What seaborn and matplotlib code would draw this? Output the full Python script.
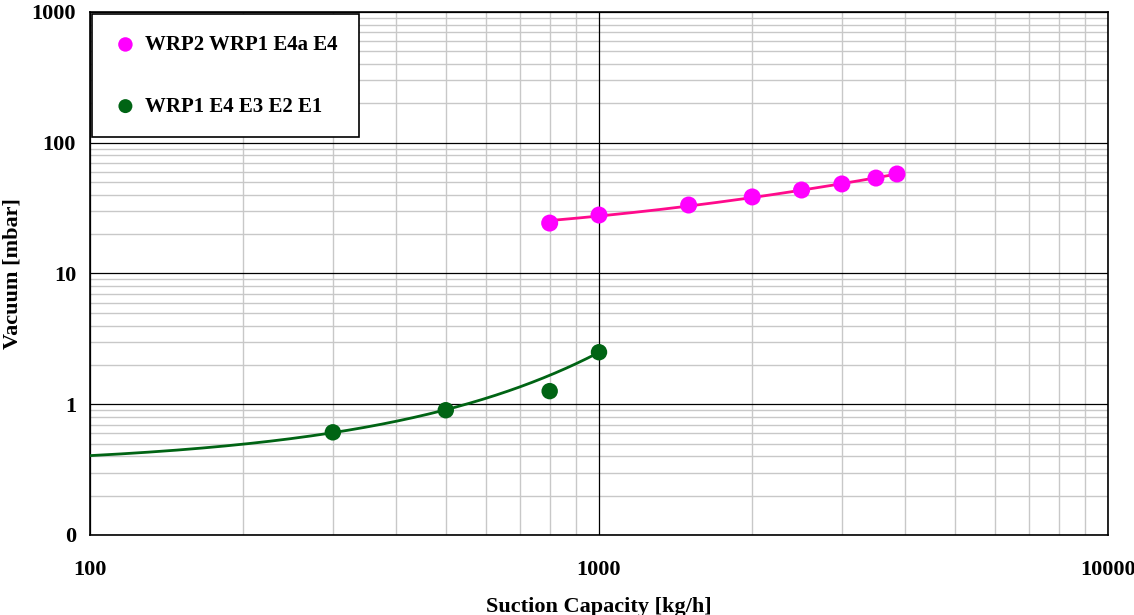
import numpy as np
import pandas as pd
import matplotlib
matplotlib.use("Agg")
import matplotlib.pyplot as plt
import matplotlib.ticker as mticker
import seaborn as sns

# Measured pump data
wrp2_capacity = [800, 1000, 1500, 2000, 2500, 3000, 3500, 3850]
wrp2_vacuum = [24.3, 28.0, 33.4, 38.5, 43.5, 48.4, 53.7, 57.7]

wrp1_capacity = [300, 500, 800, 1000]
wrp1_vacuum = [0.61, 0.90, 1.26, 2.5]
wrp1_in_fit = [True, True, False, True]

series_names = ["WRP2 WRP1 E4a E4", "WRP1 E4 E3 E2 E1"]
y_tick_values = [0.1, 1, 10, 100, 1000]
y_tick_labels = ["0", "1", "10", "100", "1000"]
x_tick_values = [100, 1000, 10000]
x_tick_labels = ["100", "1000", "10000"]

pink_marker = "#FF00FF"
pink_line = "#FF0A8C"
green_marker = "#006414"
green_line = "#006414"

sns.set_style("white")
plt.rcParams["font.family"] = ["Liberation Serif", "DejaVu Serif"]
plt.rcParams["font.weight"] = "bold"
plt.rcParams["text.color"] = "black"
plt.rcParams["axes.labelcolor"] = "black"
plt.rcParams["xtick.color"] = "black"
plt.rcParams["ytick.color"] = "black"

df_a = pd.DataFrame({"capacity": wrp2_capacity, "vacuum": wrp2_vacuum})
df_b = pd.DataFrame({"capacity": wrp1_capacity, "vacuum": wrp1_vacuum,
                     "fit": wrp1_in_fit})

# Trend lines: linear for WRP2 set, exponential for WRP1 set
coef_a = np.polyfit(df_a["capacity"], df_a["vacuum"], 1)
xa = np.linspace(df_a["capacity"].min(), df_a["capacity"].max(), 200)
trend_a = pd.DataFrame({"capacity": xa, "vacuum": np.polyval(coef_a, xa)})

fit_b = df_b[df_b["fit"]]
coef_b = np.polyfit(fit_b["capacity"], np.log(fit_b["vacuum"]), 1)
xb = np.linspace(100, df_b["capacity"].max(), 300)
trend_b = pd.DataFrame({"capacity": xb, "vacuum": np.exp(np.polyval(coef_b, xb))})

fig = plt.figure(figsize=(11.34, 6.15), dpi=100)
ax = fig.add_axes([90 / 1134, 1 - 535 / 615, (1108 - 90) / 1134, (535 - 12) / 615])

ax.set_xscale("log")
ax.set_yscale("log")
ax.set_xlim(100, 10000)
ax.set_ylim(0.1, 1000)

# light minor grid, with solid black decade lines laid over it
ax.grid(which="minor", color="#c8c8c8", linewidth=1.0)
ax.grid(which="major", visible=False)
for xv in x_tick_values:
    ax.axvline(xv, color="black", linewidth=0.9, zorder=1.5)
for yv in y_tick_values:
    ax.axhline(yv, color="black", linewidth=0.9, zorder=1.5)
ax.set_axisbelow(True)

sns.lineplot(data=trend_a, x="capacity", y="vacuum", ax=ax, color=pink_line,
             linewidth=2.0, legend=False, zorder=3)
sns.lineplot(data=trend_b, x="capacity", y="vacuum", ax=ax, color=green_line,
             linewidth=2.0, legend=False, zorder=3)
sns.scatterplot(data=df_a, x="capacity", y="vacuum", ax=ax, color=pink_marker,
                s=150, edgecolor="none", label=series_names[0], zorder=4)
sns.scatterplot(data=df_b, x="capacity", y="vacuum", ax=ax, color=green_marker,
                s=140, edgecolor="none", label=series_names[1], zorder=4)

ax.yaxis.set_major_locator(mticker.FixedLocator(y_tick_values))
ax.yaxis.set_major_formatter(mticker.FixedFormatter(y_tick_labels))
ax.xaxis.set_major_locator(mticker.FixedLocator(x_tick_values))
ax.xaxis.set_major_formatter(mticker.FixedFormatter(x_tick_labels))
ax.yaxis.set_minor_locator(mticker.LogLocator(base=10, subs=np.arange(2, 10)))
ax.xaxis.set_minor_locator(mticker.LogLocator(base=10, subs=np.arange(2, 10)))
ax.yaxis.set_minor_formatter(mticker.NullFormatter())
ax.xaxis.set_minor_formatter(mticker.NullFormatter())

ax.tick_params(which="major", direction="out", length=6, width=1, color="black",
               labelcolor="black", labelsize=16)
ax.tick_params(axis="x", which="major", pad=12)
ax.tick_params(axis="y", which="major", pad=4)
ax.tick_params(which="minor", length=0)
for lbl in ax.get_xticklabels() + ax.get_yticklabels():
    lbl.set_fontweight("bold")

for sp in ax.spines.values():
    sp.set_color("black")
    sp.set_linewidth(1.2)

ax.set_xlabel("Suction Capacity [kg/h]", fontsize=16, fontweight="bold",
              labelpad=12, color="black")
ax.set_ylabel("Vacuum [mbar]", fontsize=16, fontweight="bold", va="center",
              color="black")
ax.yaxis.set_label_coords(-0.0766, 0.5)

leg = ax.legend(loc="upper left", bbox_to_anchor=(0.0, 1.0), frameon=True,
                fancybox=False, edgecolor="black", framealpha=1,
                prop={"size": 15, "weight": "bold"}, labelspacing=2.0,
                borderpad=1.0, handlelength=1.2, handletextpad=0.35,
                markerscale=0.85, borderaxespad=0.1, labelcolor="black")
leg.get_frame().set_linewidth(1.2)

fig.savefig("out.png", dpi=100)
